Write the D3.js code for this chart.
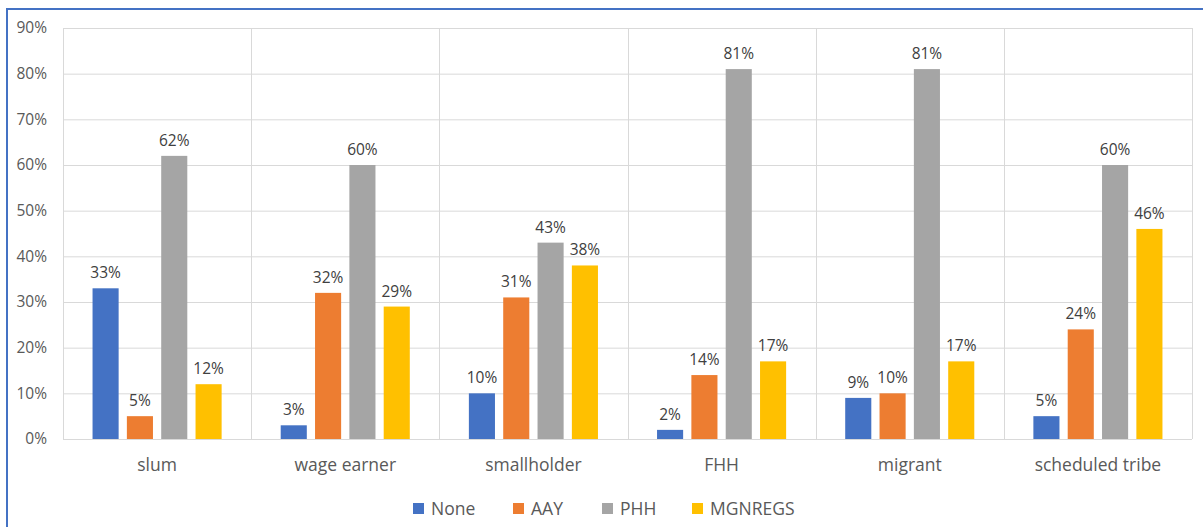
<!DOCTYPE html>
<html><head><meta charset="utf-8">
<script src="https://cdn.jsdelivr.net/npm/d3@7"></script>
<style>body{margin:0;background:#fff}svg{display:block}text{font-family:"Open Sans","Noto Sans",sans-serif}</style>
</head><body><svg id="c" width="1203" height="527"></svg>
<script>
const categories = ["slum","wage earner","smallholder","FHH","migrant","scheduled tribe"];
const seriesNames = ["None","AAY","PHH","MGNREGS"];
const seriesColors = ["#4472C4","#ED7D31","#A5A5A5","#FFC000"];
const noneVals = [33,3,10,2,9,5];
const aayVals = [5,32,31,14,10,24];
const phhVals = [62,60,43,81,81,60];
const mgnregsVals = [12,29,38,17,17,46];
const yTicks = [0,10,20,30,40,50,60,70,80,90];

const seriesVals = [noneVals,aayVals,phhVals,mgnregsVals];
const svg = d3.select("#c");
const L=63,R=1192,T=28,B=439;
svg.append("rect").attr("x",7).attr("y",9).attr("width",1300).attr("height",700)
  .attr("fill","none").attr("stroke","#4472C4").attr("stroke-width",2);

const y = d3.scaleLinear().domain([0,90]).range([B,T]);
const x0 = d3.scaleBand().domain(categories).range([L,R]).paddingInner(0.314).paddingOuter(0.157);
const x1 = d3.scaleBand().domain(seriesNames).range([0,x0.bandwidth()]).paddingInner(0.24).paddingOuter(0);

svg.append("g").selectAll("line").data(yTicks).join("line")
  .attr("x1",L).attr("x2",R).attr("y1",d=>y(d)+0.5).attr("y2",d=>y(d)+0.5)
  .attr("stroke","#d9d9d9").attr("stroke-width",1);
const seps = d3.range(categories.length+1).map(i=>L+i*(R-L)/categories.length);
svg.append("g").selectAll("line").data(seps).join("line")
  .attr("x1",d=>Math.round(d)+0.5).attr("x2",d=>Math.round(d)+0.5).attr("y1",T).attr("y2",B)
  .attr("stroke","#d9d9d9").attr("stroke-width",1);

const yAxis = d3.axisLeft(y).tickValues(yTicks).tickFormat(d=>d+"%").tickSize(0).tickPadding(16);
const ya = svg.append("g").attr("transform",`translate(${L},0)`).call(yAxis);
ya.select(".domain").remove();
ya.selectAll("text").attr("fill","#595959").style("font-size","15.5px").style("font-family","'Open Sans',sans-serif");

const xAxis = d3.axisBottom(x0).tickSize(0).tickPadding(20);
const xa = svg.append("g").attr("transform",`translate(0,${B})`).call(xAxis);
xa.select(".domain").remove();
xa.selectAll("text").attr("fill","#595959").style("font-size","17.5px").style("font-family","'Open Sans',sans-serif");

const groups = svg.append("g").selectAll("g").data(categories).join("g")
  .attr("transform",d=>`translate(${x0(d)},0)`);
groups.each(function(cat,ci){
  const g = d3.select(this);
  const data = seriesNames.map((s,si)=>({s,si,v:seriesVals[si][ci]}));
  g.selectAll("rect").data(data).join("rect")
    .attr("x",d=>x1(d.s)).attr("width",x1.bandwidth())
    .attr("y",d=>y(d.v)).attr("height",d=>B-y(d.v))
    .attr("fill",d=>seriesColors[d.si]);
  g.selectAll("text").data(data).join("text")
    .attr("x",d=>x1(d.s)+x1.bandwidth()/2).attr("y",d=>y(d.v)-10)
    .attr("text-anchor","middle").attr("fill","#404040").style("font-size","15.5px")
    .text(d=>d.v+"%");
});

const legX = [413,513,602,692];
const lg = svg.append("g").selectAll("g").data(seriesNames).join("g")
  .attr("transform",(d,i)=>`translate(${legX[i]},503)`);
lg.append("rect").attr("width",11).attr("height",11).attr("fill",(d,i)=>seriesColors[i]);
lg.append("text").attr("x",18).attr("y",12).attr("fill","#595959").style("font-size","17.5px").text(d=>d);
</script></body></html>
